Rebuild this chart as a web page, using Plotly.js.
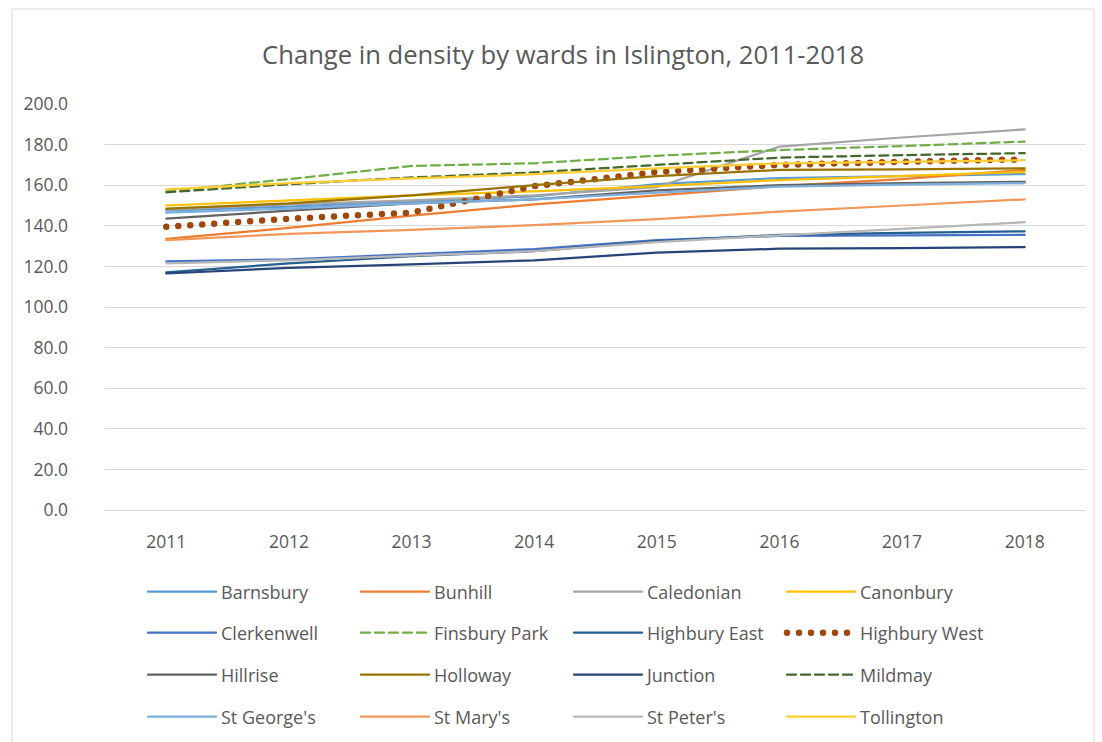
<!DOCTYPE html>
<html>
<head>
<meta charset="utf-8">
<script src="https://cdn.plot.ly/plotly-3.0.1.min.js"></script>
<style>
  html, body { margin: 0; padding: 0; background: #ffffff; }
  #chart { width: 1102px; height: 742px; }
  path.js-line { stroke-linecap: round; }
</style>
</head>
<body>
<div id="chart"></div>
<script>
// ---- data ----
const years = ['2011', '2012', '2013', '2014', '2015', '2016', '2017', '2018'];

const barnsbury    = [147.5, 149.5, 152.0, 154.5, 160.5, 163.5, 164.5, 165.5];
const bunhill      = [133.5, 139.0, 145.0, 150.5, 155.0, 159.5, 163.0, 167.5];
const caledonian   = [148.0, 150.5, 152.5, 155.0, 159.0, 179.0, 183.5, 187.5];
const canonbury    = [150.0, 152.5, 155.0, 157.0, 159.5, 162.5, 164.5, 166.5];
const clerkenwell  = [122.5, 123.5, 126.0, 128.5, 133.0, 135.0, 135.3, 135.5];
const finsburyPark = [157.0, 163.0, 169.5, 170.8, 174.5, 177.3, 179.3, 181.5];
const highburyEast = [117.0, 121.5, 125.0, 127.5, 132.5, 135.5, 136.5, 137.3];
const highburyWest = [139.5, 143.5, 146.5, 159.5, 166.5, 170.0, 171.5, 172.7];
const hillrise     = [143.5, 147.5, 151.0, 153.0, 157.5, 160.0, 161.0, 161.7];
const holloway     = [148.5, 151.0, 155.0, 160.0, 164.5, 167.5, 167.8, 168.3];
const junction     = [116.5, 119.3, 121.0, 123.0, 126.8, 128.7, 129.0, 129.5];
const mildmay      = [156.5, 160.5, 163.8, 166.3, 170.0, 173.6, 174.8, 175.8];
const stGeorges    = [146.5, 148.5, 151.0, 153.0, 156.3, 159.3, 160.3, 161.0];
const stMarys      = [133.0, 136.0, 138.0, 140.3, 143.3, 147.0, 150.0, 153.0];
const stPeters     = [121.5, 123.0, 125.3, 127.5, 132.0, 135.3, 138.5, 141.8];
const tollington   = [158.0, 161.0, 163.4, 165.4, 168.3, 170.8, 171.5, 172.3];

const seriesNames = ['Barnsbury', 'Bunhill', 'Caledonian', 'Canonbury',
  'Clerkenwell', 'Finsbury Park', 'Highbury East', 'Highbury West',
  'Hillrise', 'Holloway', 'Junction', 'Mildmay',
  "St George's", "St Mary's", "St Peter's", 'Tollington'];
const seriesValues = [barnsbury, bunhill, caledonian, canonbury,
  clerkenwell, finsburyPark, highburyEast, highburyWest,
  hillrise, holloway, junction, mildmay,
  stGeorges, stMarys, stPeters, tollington];

// ---- styles ----
const colors = ['#5B9BD5', '#ED7D31', '#A5A5A5', '#FFC000',
  '#4472C4', '#70AD47', '#255E91', '#9E480E',
  '#636363', '#997300', '#264478', '#43682B',
  '#7CAFDD', '#F1975A', '#B7B7B7', '#FFCD33'];
const dashes = ['solid', 'solid', 'solid', 'solid',
  'solid', '9px,5px', 'solid', '0px,12px',
  'solid', 'solid', 'solid', '9px,5px',
  'solid', 'solid', 'solid', 'solid'];
const widths = [2.25, 2.25, 2.25, 2.25, 2.25, 2.25, 2.25, 6.5,
  2.25, 2.25, 2.25, 2.25, 2.25, 2.25, 2.25, 2.25];
const legendIds = ['legend', 'legend2', 'legend3', 'legend4'];

const traces = seriesNames.map((name, i) => ({
  type: 'scatter',
  mode: 'lines',
  name: name,
  x: years,
  y: seriesValues[i],
  line: { color: colors[i], width: widths[i], dash: dashes[i] },
  legend: legendIds[Math.floor(i / 4)],
  hoverinfo: 'x+y+name'
}));

const FONT = 'Open Sans, Noto Sans, sans-serif';
const txt = '#595959';

// plot area: left 105, right 1086, top 104, bottom 510
const L = 105, R = 16, T = 104, B = 232;
const PW = 1102 - L - R, PH = 742 - T - B;
const px2x = p => (p - L) / PW;
const px2y = p => (742 - B - p) / PH;

const legendRows = [592, 633, 675, 717];
function makeLegend(row) {
  return {
    orientation: 'h',
    x: px2x(143), xanchor: 'left',
    y: px2y(legendRows[row]), yanchor: 'middle',
    entrywidth: 130, entrywidthmode: 'pixels',
    itemwidth: 68,
    font: { family: FONT, size: 18, color: txt },
    bgcolor: 'rgba(0,0,0,0)',
    borderwidth: 0,
    traceorder: 'normal'
  };
}

const layout = {
  width: 1102, height: 742,
  margin: { l: L, r: R, t: T, b: B, pad: 0, autoexpand: false },
  paper_bgcolor: '#ffffff',
  plot_bgcolor: '#ffffff',
  font: { family: FONT, color: txt },
  title: {
    text: 'Change in density by wards in Islington, 2011-2018',
    font: { family: FONT, size: 25.6, color: txt },
    xref: 'container', x: 0.511, xanchor: 'center',
    yref: 'container', y: 1 - 55 / 742, yanchor: 'middle'
  },
  xaxis: {
    type: 'category',
    range: [-0.5, 7.5],
    showgrid: false,
    showline: true, linecolor: '#D9D9D9', linewidth: 1.3,
    ticks: '',
    ticklabelstandoff: 16,
    tickfont: { family: FONT, size: 17.5, color: txt },
    zeroline: false,
    fixedrange: true
  },
  yaxis: {
    range: [0, 200],
    dtick: 20,
    tickformat: '.1f',
    showgrid: true, gridcolor: '#D9D9D9', gridwidth: 1.3,
    showline: false,
    zeroline: false,
    ticks: '',
    ticklabelstandoff: 36,
    tickfont: { family: FONT, size: 17.5, color: txt },
    fixedrange: true
  },
  legend: makeLegend(0),
  legend2: makeLegend(1),
  legend3: makeLegend(2),
  legend4: makeLegend(3),
  shapes: [{
    type: 'rect', xref: 'paper', yref: 'paper',
    x0: px2x(12), x1: px2x(1094), y0: px2y(780), y1: px2y(9),
    line: { color: '#D9D9D9', width: 1 },
    fillcolor: 'rgba(0,0,0,0)',
    layer: 'below'
  }],
  showlegend: true,
  hovermode: 'closest'
};

Plotly.newPlot('chart', traces, layout, { displayModeBar: false, staticPlot: false });
</script>
</body>
</html>
